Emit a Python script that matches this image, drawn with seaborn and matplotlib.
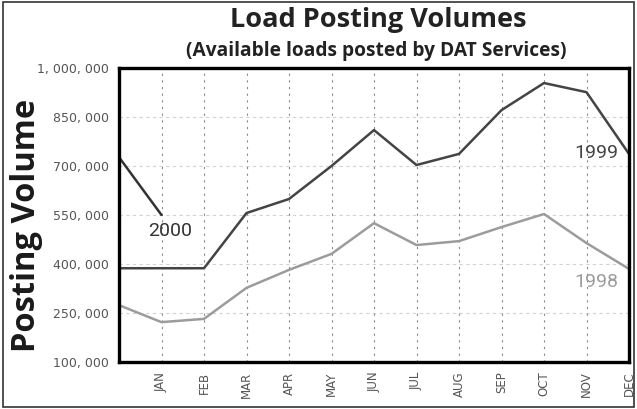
import matplotlib
matplotlib.use("Agg")
import matplotlib.pyplot as plt
import seaborn as sns
import pandas as pd
from matplotlib.patches import Rectangle
from matplotlib.ticker import FuncFormatter

# Month labels; position 0 is the carry-over point from the previous December
months = ["JAN", "FEB", "MAR", "APR", "MAY", "JUN",
          "JUL", "AUG", "SEP", "OCT", "NOV", "DEC"]

vol_1998 = [274000, 222000, 232000, 327000, 382000, 431000, 525000,
            458000, 470000, 513000, 553000, 464000, 385000]
vol_1999 = [387000, 387000, 387000, 556000, 599000, 700000, 810000,
            703000, 737000, 871000, 954000, 926000, 737000]
vol_2000 = [727000, 550000]

y_ticks = [100000, 250000, 400000, 550000, 700000, 850000, 1000000]

series_colors = {"1998": "#9c9c9c", "1999": "#444444", "2000": "#333333"}

rows = []
for name, vals in (("1998", vol_1998), ("1999", vol_1999), ("2000", vol_2000)):
    for i, v in enumerate(vals):
        rows.append({"pos": i, "volume": v, "series": name})
df = pd.DataFrame(rows)

sns.set_style("white")
plt.rcParams["font.family"] = ["Open Sans", "DejaVu Sans"]

fig = plt.figure(figsize=(6.37, 4.09), dpi=100)
ax = fig.add_axes([119 / 637, 1 - 362 / 409, (629 - 119) / 637, (362 - 68) / 409])

sns.lineplot(data=df, x="pos", y="volume", hue="series", palette=series_colors,
             linewidth=1.8, legend=False, ax=ax, sort=False)

ax.set_xlim(0, 12)
ax.set_ylim(100000, 1000000)
ax.set_xticks(range(1, 13))
ax.set_xticklabels(months, rotation=90, fontsize=8.5, color="#555555",
                   family="DejaVu Sans")
ax.set_yticks(y_ticks)
ax.yaxis.set_major_formatter(FuncFormatter(lambda v, p: f"{int(v):,}".replace(",", ", ")))
for lbl in ax.get_yticklabels():
    lbl.set_fontsize(9)
    lbl.set_color("#555555")
    lbl.set_family("DejaVu Sans")
ax.tick_params(axis="both", length=0, pad=7)
ax.set_xlabel("")
ax.set_ylabel("")

# grid: faint horizontal rules, dashed month dividers
for y in y_ticks[1:-1]:
    ax.axhline(y, color="#d2d2d2", linewidth=0.8, linestyle=(0, (3, 3)), zorder=0)
for x in range(1, 12):
    ax.axvline(x, color="#8a8a8a", linewidth=0.8, linestyle=(0, (2, 4)), zorder=0)

for side in ("left", "right", "top", "bottom"):
    ax.spines[side].set_visible(True)
    ax.spines[side].set_color("black")
    ax.spines[side].set_linewidth(2.4)

# series labels
ax.text(1.21, 501000, "2000", ha="center", va="center", fontsize=14,
        color="#333333", family="Roboto")
ax.text(11.23, 740000, "1999", ha="center", va="center", fontsize=14,
        color="#444444", family="Roboto")
ax.text(11.23, 345000, "1998", ha="center", va="center", fontsize=14,
        color="#9c9c9c", family="Roboto")

fig.text(378 / 637, 1 - 20 / 409, "Load Posting Volumes", ha="center", va="center",
         fontsize=19.5, fontweight="bold", color="#222222")
fig.text(376 / 637, 1 - 51 / 409, "(Available loads posted by DAT Services)",
         ha="center", va="center", fontsize=13.8, fontweight="bold", color="#222222")
fig.text(27 / 637, 1 - 225 / 409, "Posting Volume", ha="center", va="center",
         rotation=90, fontsize=23.5, fontweight="bold", color="#1a1a1a")

# outer frame around the whole figure
fig.patches.append(Rectangle((0.004, 0.005), 0.992, 0.99, transform=fig.transFigure,
                             fill=False, edgecolor="#333333", linewidth=1.2))

fig.savefig("out.png", dpi=100)
